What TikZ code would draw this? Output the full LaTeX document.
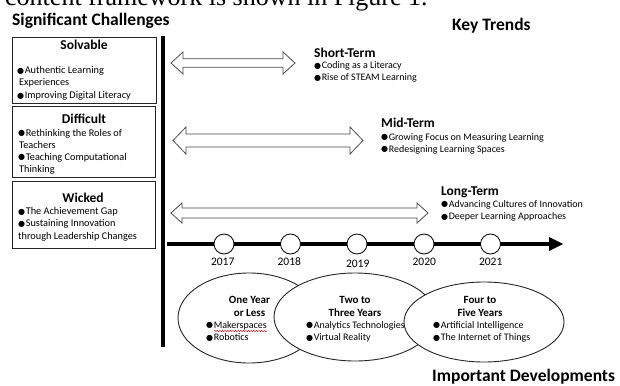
\documentclass[tikz,border=0pt]{standalone}
\usepackage{fontspec}
\setmainfont{Carlito}
\newfontfamily\timesf{Liberation Serif}
\newfontfamily\dejavu{DejaVu Sans}
\usetikzlibrary{decorations.pathmorphing,shapes.geometric}
\newcommand\bul{\raisebox{0.2pt}{\dejavu\fontsize{8}{8}\selectfont ●}\kern0.6pt}
\newcommand\dblarrow[6]{%
  \draw[arrowshape] (#1,#3) -- (#1+#6,#3-#5) -- (#1+#6,#3-#4) -- (#2-#6,#3-#4) -- (#2-#6,#3-#5) -- (#2,#3)
     -- (#2-#6,#3+#5) -- (#2-#6,#3+#4) -- (#1+#6,#3+#4) -- (#1+#6,#3+#5) -- cycle;}
\tikzset{
  heading/.style={anchor=base west, inner sep=0, font=\bfseries\fontsize{17.5}{20}\selectfont},
  ttitle/.style={anchor=base west, inner sep=0, font=\bfseries\fontsize{13.5}{15}\selectfont},
  btitle/.style={anchor=base, inner sep=0, font=\bfseries\fontsize{13.5}{15}\selectfont},
  ititle/.style={anchor=base, inner sep=0, font=\bfseries\fontsize{11}{13}\selectfont},
  item/.style={anchor=base west, inner sep=0, font=\fontsize{10}{12}\selectfont},
  bitem/.style={anchor=base west, inner sep=0, font=\fontsize{10.3}{12}\selectfont},
  year/.style={anchor=base, inner sep=0, font=\fontsize{11.5}{13}\selectfont},
  box/.style={draw=black!85, line width=0.9, inner sep=0, rectangle},
  arrowshape/.style={draw=black!70, line width=0.8, fill=white, line join=miter},
  yearc/.style={circle, draw=black, line width=0.8, fill=white, minimum size=20, inner sep=0},
  ell/.style={ellipse, draw=black!85, line width=0.9, fill=white, inner sep=0},
}
\begin{document}
\begin{tikzpicture}[x=1pt,y=-1pt]
\useasboundingbox (0,0) rectangle (620,385);
\fill[white] (0,0) rectangle (620,385);

% caption fragment at top
\node[anchor=base west, inner sep=0, font=\timesf\fontsize{26}{26}\selectfont] (cap) at (5,6) {content framework is shown in Figure 1.};

% headings
\node[heading] (sigc) at (12,26) {Significant Challenges};
\node[heading] (keyt) at (452,30.5) {Key Trends};
\node[heading] (impd) at (432,381.5) {Important Developments};

% challenge boxes
\node[box, minimum width=144, minimum height=66] (solv) at (84,70) {};
\node[box, minimum width=143, minimum height=71] (diff) at (83.5,141.5) {};
\node[box, minimum width=143, minimum height=67] (wick) at (83.5,214.5) {};

\node[btitle] (solvt) at (84,50) {Solvable};
\node[bitem] (s1) at (17,74) {\bul Authentic Learning};
\node[bitem] (s2) at (19,85) {Experiences};
\node[bitem] (s3) at (17,99) {\bul Improving Digital Literacy};

\node[btitle] (difft) at (84,123) {Difficult};
\node[bitem] (d1) at (18,136) {\bul Rethinking the Roles of};
\node[bitem] (d2) at (19,148) {Teachers};
\node[bitem] (d3) at (18,160) {\bul Teaching Computational};
\node[bitem] (d4) at (19,172) {Thinking};

\node[btitle] (wickt) at (83,202) {Wicked};
\node[bitem] (w1) at (18,214.5) {\bul The Achievement Gap};
\node[bitem] (w2) at (18,226.5) {\bul Sustaining Innovation};
\node[bitem] (w3) at (18,239) {through Leadership Changes};

% vertical divider
\coordinate (vtop) at (163,36);
\coordinate (vbot) at (163,347);
\draw[line width=4] (vtop) -- (vbot);

% trend arrows
\dblarrow{171}{295}{63}{4.2}{11}{12}
\dblarrow{173}{363}{140.5}{6.5}{13.5}{13}
\dblarrow{171}{428}{213}{5}{10}{11}

% trend texts
\node[ttitle] (stt) at (314,57.5) {Short-Term};
\node[item] (st1) at (314,69) {\bul Coding as a Literacy};
\node[item] (st2) at (314,80.5) {\bul Rise of STEAM Learning};

\node[ttitle] (mtt) at (381,128) {Mid-Term};
\node[item] (mt1) at (381,140) {\bul Growing Focus on Measuring Learning};
\node[item] (mt2) at (381,152) {\bul Redesigning Learning Spaces};

\node[ttitle] (ltt) at (441,195.5) {Long-Term};
\node[item] (lt1) at (441,207) {\bul Advancing Cultures of Innovation};
\node[item] (lt2) at (441,219.5) {\bul Deeper Learning Approaches};

% timeline
\coordinate (tl0) at (167,244);
\coordinate (tl1) at (551,244);
\draw[line width=4.5] (tl0) -- (tl1);
\fill (549,237) -- (563,244) -- (549,251) -- cycle;
\node[yearc] (c17) at (224,244) {};
\node[yearc] (c18) at (290.5,244) {};
\node[yearc] (c19) at (357,244) {};
\node[yearc] (c20) at (424,244) {};
\node[yearc] (c21) at (490.5,244) {};
\node[year] (y17) at (222.7,265.5) {2017};
\node[year] (y18) at (289.3,265.5) {2018};
\node[year] (y19) at (357.7,267) {2019};
\node[year] (y20) at (424.3,265.5) {2020};
\node[year] (y21) at (490.7,265.5) {2021};

% developments ellipses
\node[ell, minimum width=142, minimum height=90] (e1) at (249,318) {};
\node[ititle] (e1a) at (249.5,303) {One Year};
\node[ititle] (e1b) at (249.5,316) {or Less};
\node[item] (e1c) at (206,328) {\bul Makerspaces};
\node[item] (e1d) at (206,340.5) {\bul Robotics};
\draw[red!85!black, line width=0.4, decorate, decoration={snake, amplitude=0.7, segment length=2.6}] (214,331) -- (267,331);

\node[ell, minimum width=162, minimum height=88] (e2) at (355,317) {};
\node[ititle] (e2a) at (355,303) {Two to};
\node[ititle] (e2b) at (355,316) {Three Years};
\node[item] (e2c) at (306,328) {\bul Analytics Technologies};
\node[item] (e2d) at (306,340.5) {\bul Virtual Reality};

\node[ell, minimum width=160, minimum height=80] (e3) at (484,322) {};
\node[ititle] (e3a) at (480,303) {Four to};
\node[ititle] (e3b) at (480,316) {Five Years};
\node[item] (e3c) at (433,328) {\bul Artificial Intelligence};
\node[item] (e3d) at (433,340.5) {\bul The Internet of Things};
\end{tikzpicture}
\end{document}
